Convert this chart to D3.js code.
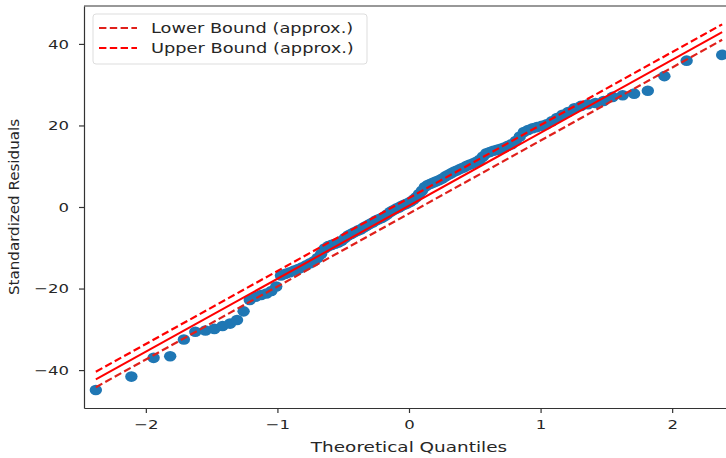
<!DOCTYPE html>
<html lang="en">
<head>
	<meta charset="UTF-8">
	<title>Q-Q plot</title>
	<script src="https://d3js.org/d3.v7.min.js"></script>
	<style>
		body { margin: 0; background: #fff; }
		text { font-family: "DejaVu Sans", sans-serif; fill: #262626; }
	</style>
</head>
<body>
	<script>
		// theoretical quantiles (lower half, upper half is the mirror)
		var qLow = [-2.380, -2.110, -1.941, -1.815, -1.711, -1.624, -1.547, -1.479, -1.417, -1.360,
			-1.307, -1.257, -1.210, -1.166, -1.124, -1.084, -1.046, -1.009, -0.973, -0.939,
			-0.905, -0.873, -0.842, -0.811, -0.781, -0.752, -0.723, -0.695, -0.668, -0.641,
			-0.614, -0.588, -0.562, -0.537, -0.512, -0.487, -0.463, -0.439, -0.415, -0.391,
			-0.368, -0.345, -0.322, -0.299, -0.276, -0.253, -0.231, -0.208, -0.186, -0.164,
			-0.142, -0.120, -0.098, -0.076, -0.055, -0.033, -0.011];
		var qHigh = [0.011, 0.033, 0.055, 0.076, 0.098, 0.120, 0.142, 0.164, 0.186, 0.208,
			0.231, 0.253, 0.276, 0.299, 0.322, 0.345, 0.368, 0.391, 0.415, 0.439,
			0.463, 0.487, 0.512, 0.537, 0.562, 0.588, 0.614, 0.641, 0.668, 0.695,
			0.723, 0.752, 0.781, 0.811, 0.842, 0.873, 0.905, 0.939, 0.973, 1.009,
			1.046, 1.084, 1.124, 1.166, 1.210, 1.257, 1.307, 1.360, 1.417, 1.479,
			1.547, 1.624, 1.711, 1.815, 1.941, 2.110, 2.380];

		// sorted standardized residuals
		var resLow = [-44.9, -41.6, -37.0, -36.6, -32.5, -30.6, -30.3, -29.9, -29.2, -28.6,
			-27.7, -25.6, -22.8, -22.0, -21.6, -21.2, -20.6, -19.5, -16.8, -16.4,
			-16.0, -15.6, -15.2, -14.8, -14.3, -13.8, -13.3, -12.5, -11.5, -10.2,
			-9.6, -9.3, -9.0, -8.7, -8.3, -7.6, -7.0, -6.6, -6.2, -5.8,
			-5.5, -5.0, -4.6, -4.2, -3.8, -3.3, -3.0, -2.7, -2.3, -1.8,
			-1.2, -0.8, -0.4, -0.1, 0.3, 0.6, 0.9];
		var resHigh = [1.3, 1.8, 2.4, 3.2, 4.0, 4.9, 5.4, 5.7, 6.0, 6.3,
			6.6, 7.0, 7.5, 7.9, 8.3, 8.7, 9.0, 9.4, 9.7, 10.1,
			10.4, 10.7, 11.1, 11.6, 12.4, 13.2, 13.5, 13.8, 14.0, 14.3,
			14.6, 15.0, 15.4, 16.2, 17.3, 18.4, 18.9, 19.3, 19.6, 19.9,
			20.3, 21.0, 21.8, 22.6, 23.3, 24.2, 24.8, 25.2, 25.5, 26.0,
			27.0, 27.4, 27.8, 28.5, 32.1, 35.9, 37.3];

		// fitted line and approx. bounds
		var slope = 17.9;
		var intercept = 0.3;
		var boundOffset = 1.9;

		var xTicks = [-2, -1, 0, 1, 2];
		var yTicks = [-40, -20, 0, 20, 40];
		var legendLabels = ["Lower Bound (approx.)", "Upper Bound (approx.)"];

		var w = 726, h = 458;
		var m = {left: 84, top: 6, right: -8, bottom: 50};
		var stretch = 1.27; // the picture is wider than tall

		var svg = d3.select("body").append("svg")
			.attr("width", w)
			.attr("height", h);

		var x = d3.scaleLinear().domain([-2.47, 2.47]).range([m.left, w - m.right]);
		var y = d3.scaleLinear().domain([-49.3, 49.3]).range([h - m.bottom, m.top]);

		var quant = qLow.concat(qHigh);
		var resid = resLow.concat(resHigh);
		var pts = quant.map(function(q, i){ return [q, resid[i]]; });

		// points
		svg.append("g").selectAll("ellipse")
			.data(pts)
			.enter().append("ellipse")
			.attr("cx", function(d){ return x(d[0]); })
			.attr("cy", function(d){ return y(d[1]); })
			.attr("rx", 6.2)
			.attr("ry", 5.3)
			.attr("fill", "#1f77b4");

		var xmin = d3.min(quant), xmax = d3.max(quant);
		function lineAt(off){
			return [[xmin, slope * xmin + intercept + off], [xmax, slope * xmax + intercept + off]];
		}
		var line = d3.line().x(function(d){ return x(d[0]); }).y(function(d){ return y(d[1]); });

		svg.append("path").attr("d", line(lineAt(0)))
			.attr("stroke", "red").attr("stroke-width", 2).attr("fill", "none");
		svg.append("path").attr("d", line(lineAt(-boundOffset)))
			.attr("stroke", "#e0201b").attr("stroke-width", 2.2).attr("fill", "none")
			.attr("stroke-dasharray", "7.4,3.4");
		svg.append("path").attr("d", line(lineAt(boundOffset)))
			.attr("stroke", "red").attr("stroke-width", 2.2).attr("fill", "none")
			.attr("stroke-dasharray", "7.4,3.4");

		// axes
		var fmt = function(d){ return d3.format("d")(d).replace("-", "\u2212"); };
		var xAxis = d3.axisBottom(x).tickValues(xTicks).tickSize(5).tickSizeOuter(0).tickPadding(7).tickFormat(fmt);
		var yAxis = d3.axisLeft(y).tickValues(yTicks).tickSize(5).tickSizeOuter(0).tickPadding(10).tickFormat(fmt);

		var gx = svg.append("g").attr("transform", "translate(0," + (h - m.bottom) + ")").call(xAxis);
		var gy = svg.append("g").attr("transform", "translate(" + m.left + ",0)").call(yAxis);
		[gx, gy].forEach(function(g){
			g.selectAll("text").attr("font-size", 13).attr("font-family", "DejaVu Sans").attr("fill", "#262626");
			g.selectAll("line").attr("stroke", "#333").attr("stroke-width", 1.2);
			g.select(".domain").attr("stroke", "#333").attr("stroke-width", 1.2);
		});
		// frame top and right
		svg.append("line").attr("x1", m.left).attr("x2", w - m.right)
			.attr("y1", m.top).attr("y2", m.top).attr("stroke", "#333").attr("stroke-width", 1.2);
		svg.append("line").attr("x1", w - m.right).attr("x2", w - m.right)
			.attr("y1", m.top).attr("y2", h - m.bottom).attr("stroke", "#333").attr("stroke-width", 1.2);

		svg.append("text")
			.attr("x", x(0)).attr("y", h - 6)
			.attr("text-anchor", "middle")
			.attr("font-size", 14.5)
			.attr("class", "wide")
			.text("Theoretical Quantiles");

		svg.append("text")
			.attr("transform", "translate(19," + ((m.top + h - m.bottom) / 2) + ") rotate(-90)")
			.attr("text-anchor", "middle")
			.attr("font-size", 14)
			.attr("textLength", 176)
			.attr("lengthAdjust", "spacingAndGlyphs")
			.text("Standardized Residuals");

		// legend
		var lg = svg.append("g").attr("transform", "translate(93,14)");
		lg.append("rect").attr("width", 274).attr("height", 50).attr("rx", 3)
			.attr("fill", "#fff").attr("fill-opacity", 0.8)
			.attr("stroke", "#ddd").attr("stroke-width", 1);
		legendLabels.forEach(function(lbl, i){
			var yy = 14 + i * 20;
			lg.append("line").attr("x1", 6).attr("x2", 44).attr("y1", yy).attr("y2", yy)
				.attr("stroke", i === 0 ? "#e0201b" : "red").attr("stroke-width", 2)
				.attr("stroke-dasharray", "7.4,3.4");
			lg.append("text").attr("x", 58).attr("y", yy + 5)
				.attr("font-size", 14).attr("class", "wide").text(lbl);
		});

		// widen horizontal text like the picture
		gx.selectAll("text").classed("wide", true);
		gy.selectAll("text").classed("wide", true);
		svg.selectAll("text.wide").each(function(){
			var len = this.getComputedTextLength();
			d3.select(this).attr("textLength", len * stretch).attr("lengthAdjust", "spacingAndGlyphs");
		});
	</script>
</body>
</html>
